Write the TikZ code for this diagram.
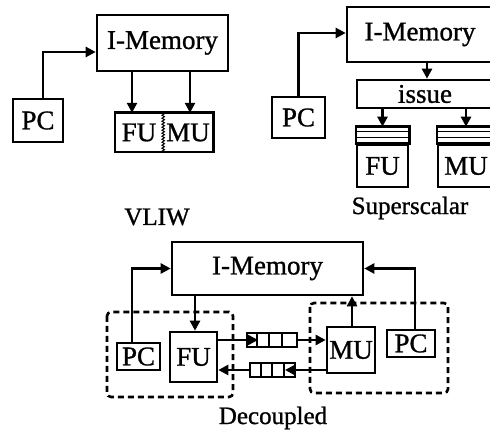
\documentclass[tikz,border=0pt]{standalone}
\usepackage{fontspec}
\setmainfont{Liberation Serif}[FakeBold=1]
\usetikzlibrary{arrows.meta,decorations.pathmorphing}
\begin{document}
\begin{tikzpicture}[x=1pt,y=-1pt,
 box/.style={draw,line width=2.6pt,inner sep=0pt,font=\fontsize{27}{28}\selectfont},
 lbl/.style={inner sep=0pt,font=\fontsize{27}{28}\selectfont},
 arr/.style={line width=2.4pt,-{Triangle[length=10pt,width=10pt]}},
 dbox/.style={draw,line width=2.6pt,dash pattern=on 6pt off 4pt,rounded corners=4pt},
 qbox/.style={draw,line width=2.2pt,inner sep=0pt,minimum height=14pt},
 qline/.style={line width=2.2pt},
 capt/.style={inner sep=0pt,font=\fontsize{25}{27}\selectfont}]
\useasboundingbox (0,0) rectangle (490,435);
\clip (0,0) rectangle (490,435);
% ---------- VLIW ----------
\node[box,minimum width=131pt,minimum height=56pt] (im1) at (162.5,43) {I-Memory};
\node[box,minimum width=50pt,minimum height=43pt] (pc1) at (38,120.5) {PC};
\node[lbl,minimum width=48pt,minimum height=39pt] (fu1) at (139,132.5) {FU};
\node[lbl,minimum width=50pt,minimum height=39pt] (mu1) at (188,132.5) {MU};
\draw[line width=2.6pt] (fu1.north west) rectangle (mu1.south east);
\draw[line width=1pt,decorate,decoration={snake,amplitude=1.2pt,segment length=3pt}] (fu1.north east) -- (fu1.south east);
\draw[arr] ([xshift=-7pt]fu1.north |- im1.south) -- ([xshift=-7pt]fu1.north);
\draw[arr] ([xshift=2pt]mu1.north |- im1.south) -- ([xshift=2pt]mu1.north);
\draw[arr] ([xshift=5pt]pc1.north) |- ([yshift=-9pt]im1.west);
\node[capt] (t1) at (157,217) {VLIW};
% ---------- Superscalar ----------
\node[box,minimum width=146pt,minimum height=55pt] (im2) at (420,34.5) {I-Memory};
\node[box,minimum width=136pt,minimum height=28pt] (is2) at (425,94) {issue};
\node[box,minimum width=53pt,minimum height=41pt] (pc2) at (298.5,117.5) {PC};
\draw[arr] ([xshift=7pt]im2.south) -- ([xshift=2pt]is2.north);
\draw[arr] (pc2.north) |- ([yshift=1.5pt]im2.west);
\node[box,minimum width=51pt,minimum height=42pt] (fu2) at (382.5,166) {FU};
\node[box,minimum width=56pt,minimum height=42pt] (mu2) at (466,166) {MU};
\foreach \n in {fu2,mu2}{
  \draw[line width=2.4pt] ([yshift=17pt]\n.north west) rectangle (\n.north east);
  \draw[line width=1.2pt] ([yshift=12pt]\n.north west) -- ([yshift=12pt]\n.north east);
  \draw[line width=1.2pt] ([yshift=6.5pt]\n.north west) -- ([yshift=6.5pt]\n.north east);
}
\draw[arr] (is2.south -| fu2.north) -- ([yshift=17pt]fu2.north);
\draw[arr] (is2.south -| mu2.north) -- ([yshift=17pt]mu2.north);
\node[capt] (t2) at (410,208) {Superscalar};
% ---------- Decoupled ----------
\node[box,minimum width=191pt,minimum height=53pt] (im3) at (267.5,268.5) {I-Memory};
\draw[dbox] (107,312) rectangle (233,397);
\draw[dbox] (310,303) rectangle (448,393);
\node[box,minimum width=43pt,minimum height=27pt] (pc3) at (138.5,356.5) {PC};
\node[box,minimum width=47pt,minimum height=50pt] (fu3) at (193.5,357) {FU};
\node[box,minimum width=48pt,minimum height=46pt] (mu3) at (351,350) {MU};
\node[box,minimum width=48pt,minimum height=27pt] (pc4) at (411,343.5) {PC};
\draw[arr] ([xshift=-6.5pt]pc3.north) |- (im3.west);
\draw[arr] ([xshift=4pt]pc4.north) |- (im3.east);
\draw[arr] ([xshift=1.5pt]fu3.north |- im3.south) -- ([xshift=1.5pt]fu3.north);
\draw[arr] ([xshift=1pt]mu3.north) -- ([xshift=1pt]mu3.north |- im3.south);
% queues
\node[qbox,minimum width=50pt] (q1) at (272,340) {};
\foreach \d in {11,23,36}{\draw[qline] ([xshift=\d pt]q1.north west) -- ([xshift=\d pt]q1.south west);}
\node[qbox,minimum width=45pt] (q2) at (272.5,370) {};
\foreach \d in {12,23,35}{\draw[qline] ([xshift=\d pt]q2.north west) -- ([xshift=\d pt]q2.south west);}
\coordinate (q1in) at (258,340);
\coordinate (q2in) at (285,370);
\draw[arr] (fu3.east |- q1) -- (q1in);
\draw[arr] (q1.east) -- (mu3.west |- q1);
\draw[arr] (mu3.west |- q2) -- (q2in);
\draw[arr] (q2.west) -- (fu3.east |- q2);
\node[capt] (t3) at (273,418) {Decoupled};
\end{tikzpicture}
\end{document}
